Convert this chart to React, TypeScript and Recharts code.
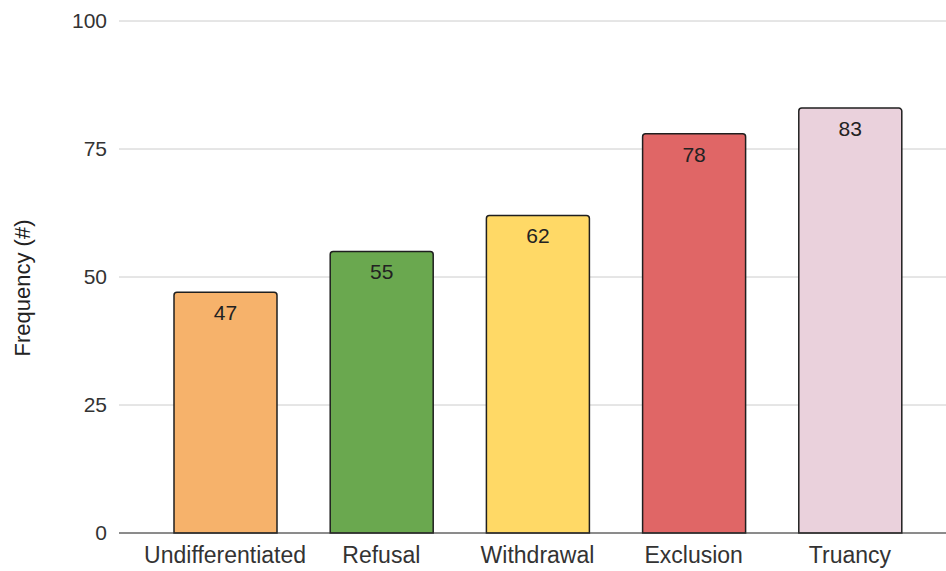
import { BarChart, Bar, XAxis, YAxis, CartesianGrid, Cell, LabelList, Label } from 'recharts';

const categories = ['Undifferentiated', 'Refusal', 'Withdrawal', 'Exclusion', 'Truancy'];
const frequency = [47, 55, 62, 78, 83];
const barColors = ['#f6b26b', '#6aa84f', '#ffd966', '#e06666', '#ead1dc'];
const yTicks = [0, 25, 50, 75, 100];

const data = categories.map((name, i) => ({ name, frequency: frequency[i] }));

const FONT = '"Liberation Sans", Arial, sans-serif';

// rotated axis title, sitting a little below the plot's vertical centre
function YTitle({ viewBox }: any) {
  const cx = 22;
  const cy = viewBox.y + viewBox.height / 2 + 11;
  return (
    <text
      x={cx}
      y={cy}
      transform={`rotate(-90 ${cx} ${cy})`}
      textAnchor="middle"
      dominantBaseline="central"
      fill="#222222"
      fontSize={22}
      fontFamily={FONT}
    >
      Frequency (#)
    </text>
  );
}

export default function App() {
  return (
    <div style={{ position: 'fixed', left: 0, top: 0, width: 946, height: 571, background: '#fff', fontFamily: FONT }}>
      <BarChart
        width={946}
        height={571}
        data={data}
        margin={{ top: 21, right: 0, bottom: 0, left: 0 }}
      >
        <CartesianGrid stroke="#cccccc" vertical={false} />
        <XAxis
          dataKey="name"
          height={38}
          padding={{ left: 28, right: 18 }}
          axisLine={{ stroke: '#333333', strokeWidth: 1 }}
          tickLine={false}
          tickMargin={8}
          tick={{ fill: '#333333', fontSize: 23, fontFamily: FONT }}
          interval={0}
        />
        <YAxis
          width={119}
          domain={[0, 100]}
          ticks={yTicks}
          axisLine={false}
          tickLine={false}
          tickMargin={6}
          tick={{ fill: '#333333', fontSize: 21, fontFamily: FONT }}
        >
          <Label content={<YTitle />} />
        </YAxis>
        <Bar
          dataKey="frequency"
          barSize={103}
          stroke="#1f1f1f"
          strokeWidth={1.5}
          radius={[3, 3, 0, 0]}
          isAnimationActive={false}
        >
          {data.map((d, i) => (
            <Cell key={d.name} fill={barColors[i]} />
          ))}
          <LabelList
            dataKey="frequency"
            position="insideTop"
            offset={13}
            style={{ fill: '#222222', fontSize: 21, fontFamily: FONT }}
          />
        </Bar>
      </BarChart>
    </div>
  );
}
